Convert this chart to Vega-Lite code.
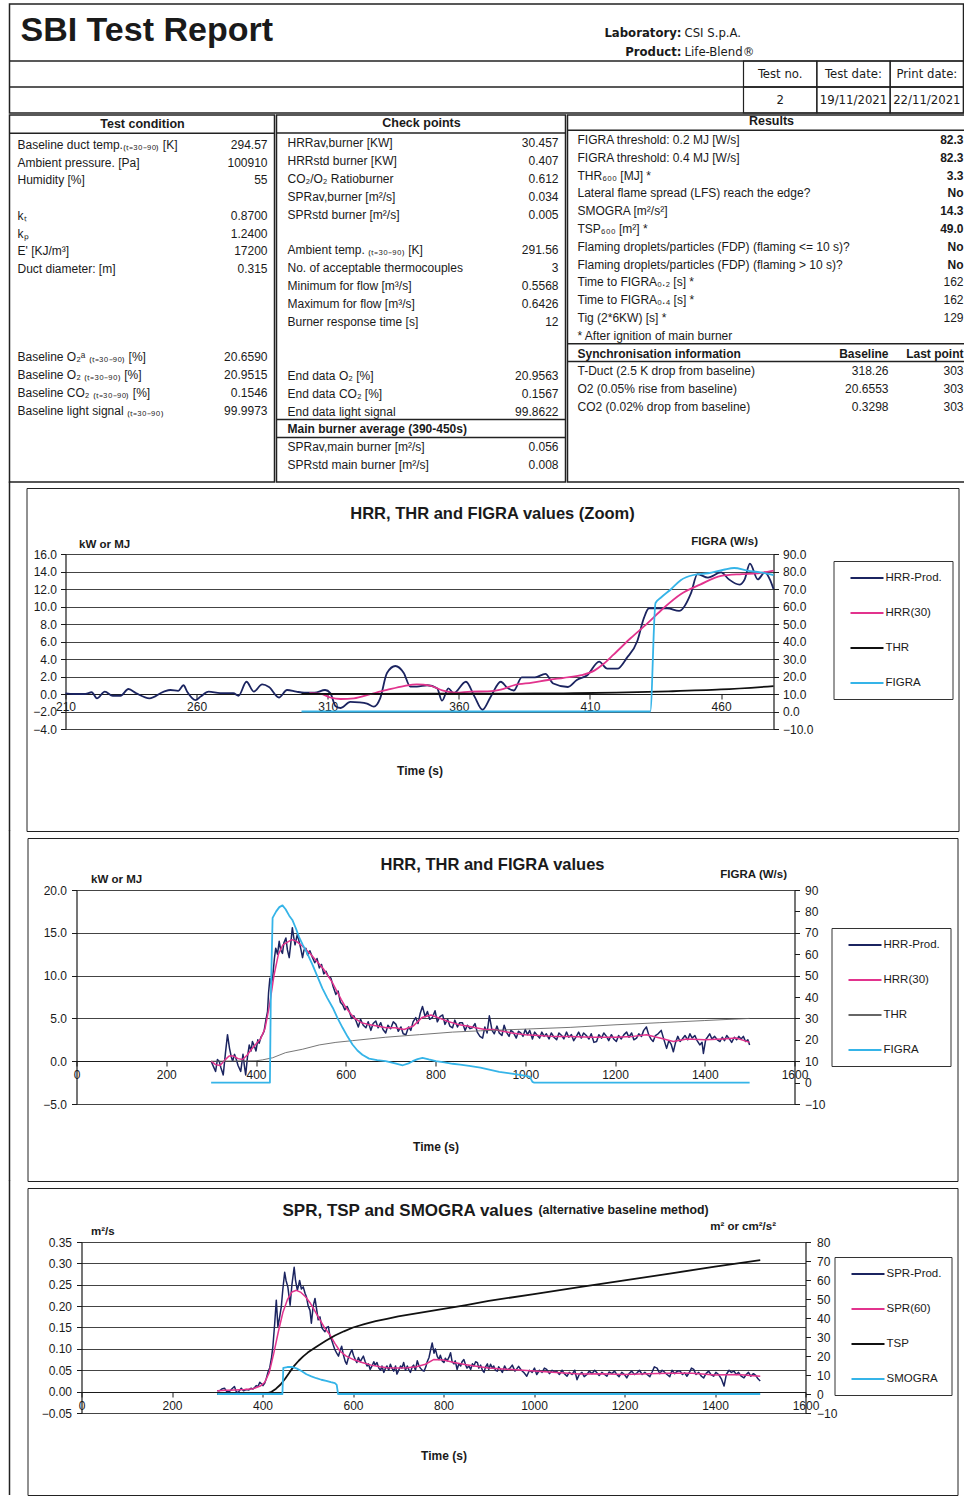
{
"$schema": "https://vega.github.io/schema/vega-lite/v6.json",
"padding": {"left": 7.5, "top": 3, "right": 0, "bottom": 0},
"background": "white",
"spacing": -3,
"resolve": {"scale": {"color": "independent"}, "legend": {"color": "independent"}},
"config": {
 "font": "Liberation Sans",
 "view": {"stroke": "#222222", "strokeWidth": 1},
 "text": {"font": "Liberation Sans", "fontSize": 12, "color": "#1a1a1a"},
 "rule": {"color": "#222222"},
 "axis": {"labelFont": "Liberation Sans", "titleFont": "Liberation Sans", "labelFontSize": 12, "labelColor": "#1a1a1a", "titleColor": "#1a1a1a", "titleFontWeight": "bold", "titleFontSize": 12, "domainColor": "#1a1a1a", "domainWidth": 1.2, "tickColor": "#1a1a1a", "gridColor": "#444444", "gridWidth": 1, "labelFlush": false, "labelOverlap": false},
 "legend": {"labelFont": "Liberation Sans", "labelFontSize": 11.5, "labelColor": "#1a1a1a", "symbolType": "M0,0L6,0", "symbolSize": 121, "symbolStrokeWidth": 2.2, "labelOffset": 28, "rowPadding": 22, "padding": 10, "strokeColor": "#333333", "fillColor": "white", "labelLimit": 200},
 "title": {"font": "Liberation Sans", "fontWeight": "bold", "color": "#1a1a1a", "fontSize": 16.5}
},
"datasets": {
 "lab": [{"line": 1, "k": "Laboratory:", "v": "CSI S.p.A."}, {"line": 2, "k": "Product:", "v": "Life-Blend®"}],
 "tests": [
  {"col": "Test no.", "row": "head", "text": "Test no."}, {"col": "Test date:", "row": "head", "text": "Test date:"}, {"col": "Print date:", "row": "head", "text": "Print date:"},
  {"col": "Test no.", "row": "val", "text": "2"}, {"col": "Test date:", "row": "val", "text": "19/11/2021"}, {"col": "Print date:", "row": "val", "text": "22/11/2021"}
 ],
 "frame": [{"p": 0}],
 "tc": [
  {"row": 1, "label": "Baseline duct temp.₍ₜ₌₃₀₋₉₀₎ [K]", "value": "294.57"},
  {"row": 2, "label": "Ambient pressure. [Pa]", "value": "100910"},
  {"row": 3, "label": "Humidity [%]", "value": "55"},
  {"row": 5, "label": "kₜ", "value": "0.8700"},
  {"row": 6, "label": "kₚ", "value": "1.2400"},
  {"row": 7, "label": "E' [KJ/m³]", "value": "17200"},
  {"row": 8, "label": "Duct diameter: [m]", "value": "0.315"},
  {"row": 13, "label": "Baseline O₂ᵃ ₍ₜ₌₃₀₋₉₀₎ [%]", "value": "20.6590"},
  {"row": 14, "label": "Baseline O₂ ₍ₜ₌₃₀₋₉₀₎ [%]", "value": "20.9515"},
  {"row": 15, "label": "Baseline CO₂ ₍ₜ₌₃₀₋₉₀₎ [%]", "value": "0.1546"},
  {"row": 16, "label": "Baseline light signal ₍ₜ₌₃₀₋₉₀₎", "value": "99.9973"}
 ],
 "cp": [
  {"row": 1, "label": "HRRav,burner [KW]", "value": "30.457"},
  {"row": 2, "label": "HRRstd burner [KW]", "value": "0.407"},
  {"row": 3, "label": "CO₂/O₂ Ratioburner", "value": "0.612"},
  {"row": 4, "label": "SPRav,burner [m²/s]", "value": "0.034"},
  {"row": 5, "label": "SPRstd burner [m²/s]", "value": "0.005"},
  {"row": 7, "label": "Ambient temp. ₍ₜ₌₃₀₋₉₀₎ [K]", "value": "291.56"},
  {"row": 8, "label": "No. of acceptable thermocouples", "value": "3"},
  {"row": 9, "label": "Minimum for flow [m³/s]", "value": "0.5568"},
  {"row": 10, "label": "Maximum for flow [m³/s]", "value": "0.6426"},
  {"row": 11, "label": "Burner response time [s]", "value": "12"},
  {"row": 14, "label": "End data O₂ [%]", "value": "20.9563"},
  {"row": 15, "label": "End data CO₂ [%]", "value": "0.1567"},
  {"row": 16, "label": "End data light signal", "value": "99.8622"},
  {"row": 17, "label": "Main burner average (390-450s)", "value": ""},
  {"row": 18, "label": "SPRav,main burner [m²/s]", "value": "0.056"},
  {"row": 19, "label": "SPRstd main burner [m²/s]", "value": "0.008"}
 ],
 "res": [
  {"row": 1, "label": "FIGRA threshold: 0.2 MJ [W/s]", "value": "82.3"},
  {"row": 2, "label": "FIGRA threshold: 0.4 MJ [W/s]", "value": "82.3"},
  {"row": 3, "label": "THR₆₀₀ [MJ] *", "value": "3.3"},
  {"row": 4, "label": "Lateral flame spread (LFS) reach the edge?", "value": "No"},
  {"row": 5, "label": "SMOGRA [m²/s²]", "value": "14.3"},
  {"row": 6, "label": "TSP₆₀₀ [m²] *", "value": "49.0"},
  {"row": 7, "label": "Flaming droplets/particles (FDP) (flaming <= 10 s)?", "value": "No"},
  {"row": 8, "label": "Flaming droplets/particles (FDP) (flaming > 10 s)?", "value": "No"},
  {"row": 9, "label": "Time to FIGRA₀.₂ [s] *", "value": "162"},
  {"row": 10, "label": "Time to FIGRA₀.₄ [s] *", "value": "162"},
  {"row": 11, "label": "Tig (2*6KW) [s] *", "value": "129"},
  {"row": 12, "label": "* After ignition of main burner", "value": ""},
  {"row": 13, "label": "Synchronisation information", "base": "Baseline", "value": "Last point"},
  {"row": 14, "label": "T-Duct (2.5 K drop from baseline)", "base": "318.26", "value": "303"},
  {"row": 15, "label": "O2 (0.05% rise from baseline)", "base": "20.6553", "value": "303"},
  {"row": 16, "label": "CO2 (0.02% drop from baseline)", "base": "0.3298", "value": "303"}
 ],
 "c1": [
  {"s":"HRR-Prod.","t":210,"v":0.08},{"s":"HRR-Prod.","t":213,"v":0},{"s":"HRR-Prod.","t":217.6,"v":0},{"s":"HRR-Prod.","t":220,"v":0.2},{"s":"HRR-Prod.","t":222,"v":-0.5},{"s":"HRR-Prod.","t":225,"v":0.27},{"s":"HRR-Prod.","t":228,"v":-0.2},{"s":"HRR-Prod.","t":231,"v":-0.2},{"s":"HRR-Prod.","t":234,"v":0.57},{"s":"HRR-Prod.","t":237,"v":0.08},{"s":"HRR-Prod.","t":242,"v":-0.5},{"s":"HRR-Prod.","t":247.5,"v":0.27},{"s":"HRR-Prod.","t":250,"v":0.46},{"s":"HRR-Prod.","t":253,"v":0.35},{"s":"HRR-Prod.","t":255,"v":1.0},{"s":"HRR-Prod.","t":256.4,"v":0.27},{"s":"HRR-Prod.","t":259.6,"v":-0.7},{"s":"HRR-Prod.","t":261.5,"v":-0.3},{"s":"HRR-Prod.","t":264.6,"v":0.27},{"s":"HRR-Prod.","t":269,"v":0.1},{"s":"HRR-Prod.","t":274,"v":0.1},{"s":"HRR-Prod.","t":276,"v":-0.2},{"s":"HRR-Prod.","t":279,"v":1.4},{"s":"HRR-Prod.","t":281.8,"v":0.27},{"s":"HRR-Prod.","t":285,"v":1.1},{"s":"HRR-Prod.","t":287.6,"v":0.8},{"s":"HRR-Prod.","t":291.4,"v":-0.4},{"s":"HRR-Prod.","t":294.5,"v":0.46},{"s":"HRR-Prod.","t":298,"v":0.27},{"s":"HRR-Prod.","t":301,"v":0.15},{"s":"HRR-Prod.","t":305,"v":0.15},{"s":"HRR-Prod.","t":309,"v":0.46},{"s":"HRR-Prod.","t":311,"v":0.1},{"s":"HRR-Prod.","t":313,"v":-1.4},{"s":"HRR-Prod.","t":315,"v":-1.6},{"s":"HRR-Prod.","t":318.6,"v":-0.9},{"s":"HRR-Prod.","t":322,"v":-0.95},{"s":"HRR-Prod.","t":325,"v":-1.1},{"s":"HRR-Prod.","t":327.6,"v":-1.45},{"s":"HRR-Prod.","t":330,"v":-0.5},{"s":"HRR-Prod.","t":332.6,"v":2.4},{"s":"HRR-Prod.","t":335.8,"v":3.2},{"s":"HRR-Prod.","t":339,"v":2.4},{"s":"HRR-Prod.","t":341.5,"v":0.84},{"s":"HRR-Prod.","t":344,"v":0.84},{"s":"HRR-Prod.","t":348,"v":1.0},{"s":"HRR-Prod.","t":351.7,"v":0.65},{"s":"HRR-Prod.","t":353.6,"v":-0.76},{"s":"HRR-Prod.","t":356,"v":0.65},{"s":"HRR-Prod.","t":358,"v":0.08},{"s":"HRR-Prod.","t":362.7,"v":1.4},{"s":"HRR-Prod.","t":366,"v":-0.3},{"s":"HRR-Prod.","t":369,"v":-1.8},{"s":"HRR-Prod.","t":372,"v":-0.4},{"s":"HRR-Prod.","t":376,"v":1.4},{"s":"HRR-Prod.","t":378.5,"v":0.7},{"s":"HRR-Prod.","t":381,"v":0.4},{"s":"HRR-Prod.","t":384,"v":1.9},{"s":"HRR-Prod.","t":389,"v":1.9},{"s":"HRR-Prod.","t":393,"v":2.3},{"s":"HRR-Prod.","t":396,"v":1.2},{"s":"HRR-Prod.","t":401.6,"v":0.8},{"s":"HRR-Prod.","t":405,"v":1.6},{"s":"HRR-Prod.","t":409,"v":2.15},{"s":"HRR-Prod.","t":413.5,"v":3.7},{"s":"HRR-Prod.","t":416.6,"v":2.9},{"s":"HRR-Prod.","t":420.5,"v":2.9},{"s":"HRR-Prod.","t":424,"v":4.1},{"s":"HRR-Prod.","t":428,"v":6.0},{"s":"HRR-Prod.","t":430.6,"v":8.7},{"s":"HRR-Prod.","t":432.5,"v":9.8},{"s":"HRR-Prod.","t":435.7,"v":9.8},{"s":"HRR-Prod.","t":439.5,"v":9.8},{"s":"HRR-Prod.","t":444,"v":9.5},{"s":"HRR-Prod.","t":448.5,"v":11.5},{"s":"HRR-Prod.","t":451,"v":13.7},{"s":"HRR-Prod.","t":455,"v":13.3},{"s":"HRR-Prod.","t":460,"v":13.9},{"s":"HRR-Prod.","t":463,"v":13.1},{"s":"HRR-Prod.","t":467,"v":12.5},{"s":"HRR-Prod.","t":469,"v":13.1},{"s":"HRR-Prod.","t":471,"v":14.9},{"s":"HRR-Prod.","t":474,"v":13.1},{"s":"HRR-Prod.","t":476.7,"v":13.9},{"s":"HRR-Prod.","t":478.6,"v":13.1},{"s":"HRR-Prod.","t":480,"v":12.0},
  {"s":"HRR(30)","t":303,"v":0.1},{"s":"HRR(30)","t":307,"v":0.05},{"s":"HRR(30)","t":311,"v":-0.4},{"s":"HRR(30)","t":315,"v":-0.57},{"s":"HRR(30)","t":320,"v":-0.5},{"s":"HRR(30)","t":326.5,"v":0},{"s":"HRR(30)","t":332.6,"v":0.46},{"s":"HRR(30)","t":339,"v":0.9},{"s":"HRR(30)","t":344,"v":1.1},{"s":"HRR(30)","t":349,"v":0.95},{"s":"HRR(30)","t":354,"v":0.38},{"s":"HRR(30)","t":359,"v":0.15},{"s":"HRR(30)","t":364.5,"v":0.27},{"s":"HRR(30)","t":371,"v":0.3},{"s":"HRR(30)","t":376,"v":0.5},{"s":"HRR(30)","t":381,"v":1.0},{"s":"HRR(30)","t":388,"v":1.3},{"s":"HRR(30)","t":394,"v":1.6},{"s":"HRR(30)","t":400,"v":1.85},{"s":"HRR(30)","t":406.7,"v":2.15},{"s":"HRR(30)","t":411.8,"v":2.7},{"s":"HRR(30)","t":415,"v":3.4},{"s":"HRR(30)","t":419,"v":4.5},{"s":"HRR(30)","t":425.6,"v":6.4},{"s":"HRR(30)","t":432,"v":8.1},{"s":"HRR(30)","t":438,"v":9.8},{"s":"HRR(30)","t":444.6,"v":11.4},{"s":"HRR(30)","t":452,"v":12.5},{"s":"HRR(30)","t":460,"v":13.5},{"s":"HRR(30)","t":468,"v":13.7},{"s":"HRR(30)","t":474,"v":13.8},{"s":"HRR(30)","t":480,"v":14.1},
  {"s":"THR","t":300,"v":0},{"s":"THR","t":350,"v":0.03},{"s":"THR","t":400,"v":0.08},{"s":"THR","t":420,"v":0.15},{"s":"THR","t":440,"v":0.3},{"s":"THR","t":460,"v":0.52},{"s":"THR","t":480,"v":0.9},
  {"s":"FIGRA","t":300,"v":0},{"s":"FIGRA","t":433,"v":0},{"s":"FIGRA","t":435,"v":62},{"s":"FIGRA","t":437,"v":65},{"s":"FIGRA","t":441,"v":70},{"s":"FIGRA","t":444.6,"v":75},{"s":"FIGRA","t":449.5,"v":78},{"s":"FIGRA","t":455,"v":79},{"s":"FIGRA","t":461,"v":81},{"s":"FIGRA","t":465,"v":82},{"s":"FIGRA","t":470,"v":80.5},{"s":"FIGRA","t":475,"v":79.5},{"s":"FIGRA","t":480,"v":78}
 ],
 "c2": [
  {"s":"HRR-Prod.","t":300,"v":0.0},{"s":"HRR-Prod.","t":305,"v":-0.6},{"s":"HRR-Prod.","t":310,"v":-1.2},{"s":"HRR-Prod.","t":314,"v":0.2},{"s":"HRR-Prod.","t":318,"v":0},{"s":"HRR-Prod.","t":322,"v":-0.8},{"s":"HRR-Prod.","t":327,"v":-1.6},{"s":"HRR-Prod.","t":332,"v":1.0},{"s":"HRR-Prod.","t":336.5,"v":3.1},{"s":"HRR-Prod.","t":341,"v":1.5},{"s":"HRR-Prod.","t":345,"v":0.5},{"s":"HRR-Prod.","t":348,"v":0},{"s":"HRR-Prod.","t":352,"v":0.8},{"s":"HRR-Prod.","t":355,"v":0.4},{"s":"HRR-Prod.","t":360,"v":-0.5},{"s":"HRR-Prod.","t":366,"v":-1.2},{"s":"HRR-Prod.","t":371,"v":0.8},{"s":"HRR-Prod.","t":374,"v":-0.5},{"s":"HRR-Prod.","t":377,"v":-1.6},{"s":"HRR-Prod.","t":381,"v":0.5},{"s":"HRR-Prod.","t":385,"v":1.9},{"s":"HRR-Prod.","t":389,"v":1.2},{"s":"HRR-Prod.","t":392,"v":2.3},{"s":"HRR-Prod.","t":396,"v":1.8},{"s":"HRR-Prod.","t":400,"v":1.2},{"s":"HRR-Prod.","t":404,"v":2.5},{"s":"HRR-Prod.","t":407,"v":2.1},{"s":"HRR-Prod.","t":411,"v":2.8},{"s":"HRR-Prod.","t":414.5,"v":3.1},{"s":"HRR-Prod.","t":418,"v":3.5},{"s":"HRR-Prod.","t":422,"v":4.8},{"s":"HRR-Prod.","t":425.7,"v":5.8},{"s":"HRR-Prod.","t":428,"v":8.0},{"s":"HRR-Prod.","t":431,"v":9.7},{"s":"HRR-Prod.","t":434,"v":9.0},{"s":"HRR-Prod.","t":437,"v":9.7},{"s":"HRR-Prod.","t":441,"v":12.0},{"s":"HRR-Prod.","t":444,"v":13.2},{"s":"HRR-Prod.","t":448,"v":12.5},{"s":"HRR-Prod.","t":451.7,"v":14.0},{"s":"HRR-Prod.","t":455,"v":13.0},{"s":"HRR-Prod.","t":459,"v":12.6},{"s":"HRR-Prod.","t":462,"v":13.8},{"s":"HRR-Prod.","t":466.6,"v":14.4},{"s":"HRR-Prod.","t":470,"v":13.0},{"s":"HRR-Prod.","t":474,"v":12.1},{"s":"HRR-Prod.","t":477,"v":13.5},{"s":"HRR-Prod.","t":481,"v":15.6},{"s":"HRR-Prod.","t":484,"v":14.5},{"s":"HRR-Prod.","t":487,"v":13.6},{"s":"HRR-Prod.","t":492,"v":14.8},{"s":"HRR-Prod.","t":496,"v":14.0},{"s":"HRR-Prod.","t":500,"v":13.1},{"s":"HRR-Prod.","t":503.7,"v":12.1},{"s":"HRR-Prod.","t":507,"v":13.0},{"s":"HRR-Prod.","t":511,"v":13.2},{"s":"HRR-Prod.","t":515,"v":12.4},{"s":"HRR-Prod.","t":520,"v":12.9},{"s":"HRR-Prod.","t":526,"v":12.1},{"s":"HRR-Prod.","t":531,"v":11.5},{"s":"HRR-Prod.","t":536,"v":12.0},{"s":"HRR-Prod.","t":541,"v":10.9},{"s":"HRR-Prod.","t":546,"v":11.3},{"s":"HRR-Prod.","t":551,"v":10.2},{"s":"HRR-Prod.","t":556,"v":10.5},{"s":"HRR-Prod.","t":561,"v":9.9},{"s":"HRR-Prod.","t":567,"v":9.7},{"s":"HRR-Prod.","t":572,"v":8.7},{"s":"HRR-Prod.","t":578,"v":7.8},{"s":"HRR-Prod.","t":583,"v":8.2},{"s":"HRR-Prod.","t":588,"v":6.9},{"s":"HRR-Prod.","t":593,"v":6.6},{"s":"HRR-Prod.","t":598,"v":6.0},{"s":"HRR-Prod.","t":603,"v":6.4},{"s":"HRR-Prod.","t":608,"v":5.8},{"s":"HRR-Prod.","t":613,"v":5.0},{"s":"HRR-Prod.","t":618,"v":5.3},{"s":"HRR-Prod.","t":623,"v":4.7},{"s":"HRR-Prod.","t":628,"v":4.0},{"s":"HRR-Prod.","t":633,"v":4.9},{"s":"HRR-Prod.","t":639,"v":4.2},{"s":"HRR-Prod.","t":645,"v":3.9},{"s":"HRR-Prod.","t":650,"v":4.6},{"s":"HRR-Prod.","t":656,"v":3.6},{"s":"HRR-Prod.","t":661,"v":4.4},{"s":"HRR-Prod.","t":667,"v":4.7},{"s":"HRR-Prod.","t":672,"v":3.9},{"s":"HRR-Prod.","t":678,"v":4.5},{"s":"HRR-Prod.","t":683,"v":3.7},{"s":"HRR-Prod.","t":689,"v":3.3},{"s":"HRR-Prod.","t":694,"v":4.2},{"s":"HRR-Prod.","t":700,"v":3.8},{"s":"HRR-Prod.","t":706,"v":4.6},{"s":"HRR-Prod.","t":712,"v":4.3},{"s":"HRR-Prod.","t":717,"v":3.5},{"s":"HRR-Prod.","t":723,"v":4.0},{"s":"HRR-Prod.","t":728,"v":3.2},{"s":"HRR-Prod.","t":734,"v":3.1},{"s":"HRR-Prod.","t":740,"v":4.0},{"s":"HRR-Prod.","t":745,"v":3.6},{"s":"HRR-Prod.","t":750,"v":4.6},{"s":"HRR-Prod.","t":756,"v":5.1},{"s":"HRR-Prod.","t":761,"v":4.4},{"s":"HRR-Prod.","t":766,"v":5.6},{"s":"HRR-Prod.","t":771,"v":6.4},{"s":"HRR-Prod.","t":777,"v":5.2},{"s":"HRR-Prod.","t":782,"v":5.8},{"s":"HRR-Prod.","t":787,"v":4.9},{"s":"HRR-Prod.","t":793,"v":5.1},{"s":"HRR-Prod.","t":799,"v":5.9},{"s":"HRR-Prod.","t":804,"v":4.6},{"s":"HRR-Prod.","t":810,"v":5.2},{"s":"HRR-Prod.","t":816,"v":5.4},{"s":"HRR-Prod.","t":821,"v":4.3},{"s":"HRR-Prod.","t":827,"v":4.9},{"s":"HRR-Prod.","t":832,"v":4.1},{"s":"HRR-Prod.","t":838,"v":3.9},{"s":"HRR-Prod.","t":843,"v":4.8},{"s":"HRR-Prod.","t":849,"v":4.0},{"s":"HRR-Prod.","t":854,"v":4.5},{"s":"HRR-Prod.","t":860,"v":4.5},{"s":"HRR-Prod.","t":866,"v":3.6},{"s":"HRR-Prod.","t":871,"v":4.2},{"s":"HRR-Prod.","t":877,"v":3.8},{"s":"HRR-Prod.","t":882,"v":3.9},{"s":"HRR-Prod.","t":888,"v":4.4},{"s":"HRR-Prod.","t":893,"v":3.4},{"s":"HRR-Prod.","t":899,"v":2.9},{"s":"HRR-Prod.","t":905,"v":2.7},{"s":"HRR-Prod.","t":910,"v":4.0},{"s":"HRR-Prod.","t":915,"v":3.3},{"s":"HRR-Prod.","t":920,"v":5.3},{"s":"HRR-Prod.","t":926,"v":3.6},{"s":"HRR-Prod.","t":931,"v":3.2},{"s":"HRR-Prod.","t":937,"v":4.1},{"s":"HRR-Prod.","t":942,"v":3.3},{"s":"HRR-Prod.","t":948,"v":3.0},{"s":"HRR-Prod.","t":953,"v":4.2},{"s":"HRR-Prod.","t":958,"v":3.4},{"s":"HRR-Prod.","t":964,"v":2.9},{"s":"HRR-Prod.","t":968,"v":3.6},{"s":"HRR-Prod.","t":973,"v":3.4},{"s":"HRR-Prod.","t":980,"v":2.7},{"s":"HRR-Prod.","t":985,"v":3.5},{"s":"HRR-Prod.","t":990,"v":3.3},{"s":"HRR-Prod.","t":995,"v":2.9},{"s":"HRR-Prod.","t":1000,"v":3.7},{"s":"HRR-Prod.","t":1005,"v":3.1},{"s":"HRR-Prod.","t":1010,"v":3.6},{"s":"HRR-Prod.","t":1016,"v":2.6},{"s":"HRR-Prod.","t":1021,"v":3.4},{"s":"HRR-Prod.","t":1027,"v":3.0},{"s":"HRR-Prod.","t":1032,"v":2.7},{"s":"HRR-Prod.","t":1037,"v":3.4},{"s":"HRR-Prod.","t":1042,"v":2.9},{"s":"HRR-Prod.","t":1047,"v":3.2},{"s":"HRR-Prod.","t":1053,"v":2.6},{"s":"HRR-Prod.","t":1058,"v":3.3},{"s":"HRR-Prod.","t":1064,"v":2.8},{"s":"HRR-Prod.","t":1070,"v":2.5},{"s":"HRR-Prod.","t":1075,"v":3.3},{"s":"HRR-Prod.","t":1081,"v":3.0},{"s":"HRR-Prod.","t":1086,"v":2.6},{"s":"HRR-Prod.","t":1092,"v":3.4},{"s":"HRR-Prod.","t":1097,"v":2.8},{"s":"HRR-Prod.","t":1103,"v":3.1},{"s":"HRR-Prod.","t":1108,"v":2.4},{"s":"HRR-Prod.","t":1114,"v":2.9},{"s":"HRR-Prod.","t":1119,"v":3.4},{"s":"HRR-Prod.","t":1125,"v":2.7},{"s":"HRR-Prod.","t":1130,"v":3.3},{"s":"HRR-Prod.","t":1136,"v":3.0},{"s":"HRR-Prod.","t":1142,"v":2.6},{"s":"HRR-Prod.","t":1147,"v":3.2},{"s":"HRR-Prod.","t":1153,"v":2.2},{"s":"HRR-Prod.","t":1159,"v":2.3},{"s":"HRR-Prod.","t":1164,"v":3.1},{"s":"HRR-Prod.","t":1170,"v":2.7},{"s":"HRR-Prod.","t":1175,"v":3.3},{"s":"HRR-Prod.","t":1181,"v":2.9},{"s":"HRR-Prod.","t":1186,"v":2.4},{"s":"HRR-Prod.","t":1192,"v":3.1},{"s":"HRR-Prod.","t":1197,"v":2.6},{"s":"HRR-Prod.","t":1203,"v":2.3},{"s":"HRR-Prod.","t":1208,"v":3.0},{"s":"HRR-Prod.","t":1214,"v":2.6},{"s":"HRR-Prod.","t":1220,"v":3.1},{"s":"HRR-Prod.","t":1226,"v":3.4},{"s":"HRR-Prod.","t":1231,"v":2.8},{"s":"HRR-Prod.","t":1237,"v":3.3},{"s":"HRR-Prod.","t":1242,"v":2.5},{"s":"HRR-Prod.","t":1248,"v":2.7},{"s":"HRR-Prod.","t":1253,"v":3.2},{"s":"HRR-Prod.","t":1259,"v":2.9},{"s":"HRR-Prod.","t":1264,"v":3.6},{"s":"HRR-Prod.","t":1270,"v":4.0},{"s":"HRR-Prod.","t":1275,"v":3.1},{"s":"HRR-Prod.","t":1280,"v":2.6},{"s":"HRR-Prod.","t":1285,"v":2.3},{"s":"HRR-Prod.","t":1290,"v":3.0},{"s":"HRR-Prod.","t":1296,"v":3.2},{"s":"HRR-Prod.","t":1303,"v":3.6},{"s":"HRR-Prod.","t":1308,"v":2.7},{"s":"HRR-Prod.","t":1315,"v":1.5},{"s":"HRR-Prod.","t":1320,"v":2.4},{"s":"HRR-Prod.","t":1325,"v":2.0},{"s":"HRR-Prod.","t":1330,"v":1.1},{"s":"HRR-Prod.","t":1335,"v":2.2},{"s":"HRR-Prod.","t":1340,"v":2.9},{"s":"HRR-Prod.","t":1345,"v":2.3},{"s":"HRR-Prod.","t":1350,"v":2.6},{"s":"HRR-Prod.","t":1356,"v":3.0},{"s":"HRR-Prod.","t":1362,"v":2.5},{"s":"HRR-Prod.","t":1367,"v":3.2},{"s":"HRR-Prod.","t":1372,"v":2.7},{"s":"HRR-Prod.","t":1378,"v":3.0},{"s":"HRR-Prod.","t":1383,"v":2.4},{"s":"HRR-Prod.","t":1389,"v":1.9},{"s":"HRR-Prod.","t":1394,"v":2.2},{"s":"HRR-Prod.","t":1397,"v":0.9},{"s":"HRR-Prod.","t":1402,"v":2.5},{"s":"HRR-Prod.","t":1406,"v":2.8},{"s":"HRR-Prod.","t":1411,"v":3.2},{"s":"HRR-Prod.","t":1416,"v":2.6},{"s":"HRR-Prod.","t":1422,"v":2.9},{"s":"HRR-Prod.","t":1428,"v":2.5},{"s":"HRR-Prod.","t":1434,"v":2.3},{"s":"HRR-Prod.","t":1439,"v":2.8},{"s":"HRR-Prod.","t":1444,"v":2.4},{"s":"HRR-Prod.","t":1449,"v":3.0},{"s":"HRR-Prod.","t":1455,"v":2.6},{"s":"HRR-Prod.","t":1460,"v":2.2},{"s":"HRR-Prod.","t":1466,"v":2.8},{"s":"HRR-Prod.","t":1471,"v":2.5},{"s":"HRR-Prod.","t":1476,"v":2.9},{"s":"HRR-Prod.","t":1481,"v":2.6},{"s":"HRR-Prod.","t":1486,"v":2.9},{"s":"HRR-Prod.","t":1491,"v":2.3},{"s":"HRR-Prod.","t":1496,"v":2.5},{"s":"HRR-Prod.","t":1500,"v":1.9},
  {"s":"HRR(30)","t":300,"v":0.0},{"s":"HRR(30)","t":310,"v":-0.4},{"s":"HRR(30)","t":320,"v":-0.5},{"s":"HRR(30)","t":330,"v":0.1},{"s":"HRR(30)","t":340,"v":0.6},{"s":"HRR(30)","t":350,"v":0.6},{"s":"HRR(30)","t":360,"v":0.3},{"s":"HRR(30)","t":370,"v":0.2},{"s":"HRR(30)","t":380,"v":0.7},{"s":"HRR(30)","t":390,"v":1.4},{"s":"HRR(30)","t":400,"v":2.0},{"s":"HRR(30)","t":410,"v":2.6},{"s":"HRR(30)","t":420,"v":3.8},{"s":"HRR(30)","t":430,"v":6.5},{"s":"HRR(30)","t":440,"v":10.0},{"s":"HRR(30)","t":450,"v":12.5},{"s":"HRR(30)","t":460,"v":13.6},{"s":"HRR(30)","t":470,"v":13.9},{"s":"HRR(30)","t":480,"v":14.2},{"s":"HRR(30)","t":490,"v":14.0},{"s":"HRR(30)","t":500,"v":13.6},{"s":"HRR(30)","t":510,"v":13.1},{"s":"HRR(30)","t":520,"v":12.6},{"s":"HRR(30)","t":530,"v":12.0},{"s":"HRR(30)","t":540,"v":11.4},{"s":"HRR(30)","t":550,"v":10.8},{"s":"HRR(30)","t":560,"v":10.0},{"s":"HRR(30)","t":570,"v":9.2},{"s":"HRR(30)","t":580,"v":8.2},{"s":"HRR(30)","t":590,"v":7.2},{"s":"HRR(30)","t":600,"v":6.3},{"s":"HRR(30)","t":610,"v":5.6},{"s":"HRR(30)","t":620,"v":5.0},{"s":"HRR(30)","t":635,"v":4.5},{"s":"HRR(30)","t":650,"v":4.3},{"s":"HRR(30)","t":670,"v":4.1},{"s":"HRR(30)","t":690,"v":3.9},{"s":"HRR(30)","t":710,"v":3.9},{"s":"HRR(30)","t":730,"v":3.7},{"s":"HRR(30)","t":750,"v":4.1},{"s":"HRR(30)","t":770,"v":5.1},{"s":"HRR(30)","t":790,"v":5.4},{"s":"HRR(30)","t":810,"v":5.0},{"s":"HRR(30)","t":830,"v":4.6},{"s":"HRR(30)","t":850,"v":4.3},{"s":"HRR(30)","t":870,"v":4.1},{"s":"HRR(30)","t":890,"v":3.9},{"s":"HRR(30)","t":910,"v":3.7},{"s":"HRR(30)","t":930,"v":3.7},{"s":"HRR(30)","t":950,"v":3.5},{"s":"HRR(30)","t":970,"v":3.3},{"s":"HRR(30)","t":1000,"v":3.1},{"s":"HRR(30)","t":1030,"v":3.0},{"s":"HRR(30)","t":1060,"v":2.9},{"s":"HRR(30)","t":1100,"v":2.9},{"s":"HRR(30)","t":1150,"v":2.8},{"s":"HRR(30)","t":1200,"v":2.8},{"s":"HRR(30)","t":1240,"v":2.9},{"s":"HRR(30)","t":1270,"v":3.1},{"s":"HRR(30)","t":1300,"v":2.7},{"s":"HRR(30)","t":1330,"v":2.3},{"s":"HRR(30)","t":1360,"v":2.6},{"s":"HRR(30)","t":1400,"v":2.5},{"s":"HRR(30)","t":1440,"v":2.6},{"s":"HRR(30)","t":1470,"v":2.7},{"s":"HRR(30)","t":1500,"v":2.2},
  {"s":"THR","t":300,"v":0},{"s":"THR","t":400,"v":0.05},{"s":"THR","t":414,"v":0.15},{"s":"THR","t":437,"v":0.4},{"s":"THR","t":466,"v":1.0},{"s":"THR","t":504,"v":1.4},{"s":"THR","t":541,"v":1.9},{"s":"THR","t":578,"v":2.2},{"s":"THR","t":615,"v":2.4},{"s":"THR","t":652,"v":2.6},{"s":"THR","t":689,"v":2.8},{"s":"THR","t":764,"v":3.1},{"s":"THR","t":838,"v":3.4},{"s":"THR","t":900,"v":3.55},{"s":"THR","t":1000,"v":3.75},{"s":"THR","t":1100,"v":3.95},{"s":"THR","t":1200,"v":4.25},{"s":"THR","t":1300,"v":4.5},{"s":"THR","t":1400,"v":4.75},{"s":"THR","t":1500,"v":5.0},
  {"s":"FIGRA","t":300,"v":0},{"s":"FIGRA","t":431,"v":0},{"s":"FIGRA","t":433,"v":40},{"s":"FIGRA","t":437,"v":77},{"s":"FIGRA","t":445,"v":80},{"s":"FIGRA","t":452,"v":82},{"s":"FIGRA","t":459,"v":82.8},{"s":"FIGRA","t":466,"v":81},{"s":"FIGRA","t":474,"v":78},{"s":"FIGRA","t":481,"v":76},{"s":"FIGRA","t":489,"v":72},{"s":"FIGRA","t":496,"v":68},{"s":"FIGRA","t":504,"v":64.5},{"s":"FIGRA","t":515,"v":60},{"s":"FIGRA","t":526,"v":55},{"s":"FIGRA","t":537,"v":49.5},{"s":"FIGRA","t":548,"v":44},{"s":"FIGRA","t":559,"v":39.5},{"s":"FIGRA","t":571,"v":35},{"s":"FIGRA","t":582,"v":30},{"s":"FIGRA","t":593,"v":25.6},{"s":"FIGRA","t":604,"v":21.5},{"s":"FIGRA","t":615,"v":17.8},{"s":"FIGRA","t":626,"v":15},{"s":"FIGRA","t":637,"v":13},{"s":"FIGRA","t":652,"v":11.2},{"s":"FIGRA","t":670,"v":10.5},{"s":"FIGRA","t":689,"v":10},{"s":"FIGRA","t":710,"v":9},{"s":"FIGRA","t":727,"v":8.1},{"s":"FIGRA","t":740,"v":9},{"s":"FIGRA","t":749,"v":10},{"s":"FIGRA","t":760,"v":11},{"s":"FIGRA","t":771,"v":11.6},{"s":"FIGRA","t":785,"v":10.8},{"s":"FIGRA","t":801,"v":10},{"s":"FIGRA","t":820,"v":9.4},{"s":"FIGRA","t":838,"v":8.8},{"s":"FIGRA","t":855,"v":8.4},{"s":"FIGRA","t":875,"v":7.8},{"s":"FIGRA","t":900,"v":7.0},{"s":"FIGRA","t":942,"v":5.0},{"s":"FIGRA","t":970,"v":4.2},{"s":"FIGRA","t":995,"v":3.4},{"s":"FIGRA","t":1010,"v":2.8},{"s":"FIGRA","t":1016,"v":0.3},{"s":"FIGRA","t":1020,"v":0},{"s":"FIGRA","t":1500,"v":0}
 ],
 "c3": [
  {"s":"SPR-Prod.","t":300,"v":0.002},{"s":"SPR-Prod.","t":305,"v":0.002},{"s":"SPR-Prod.","t":310,"v":0.006},{"s":"SPR-Prod.","t":316,"v":0.008},{"s":"SPR-Prod.","t":321,"v":0.0},{"s":"SPR-Prod.","t":327,"v":0.0},{"s":"SPR-Prod.","t":332,"v":0.006},{"s":"SPR-Prod.","t":338,"v":0.012},{"s":"SPR-Prod.","t":342,"v":0.0},{"s":"SPR-Prod.","t":346,"v":-0.003},{"s":"SPR-Prod.","t":350,"v":0.004},{"s":"SPR-Prod.","t":353,"v":0.008},{"s":"SPR-Prod.","t":358,"v":0.002},{"s":"SPR-Prod.","t":364,"v":0.005},{"s":"SPR-Prod.","t":370,"v":0.004},{"s":"SPR-Prod.","t":375,"v":0.008},{"s":"SPR-Prod.","t":379,"v":0.006},{"s":"SPR-Prod.","t":383,"v":0.01},{"s":"SPR-Prod.","t":386,"v":0.014},{"s":"SPR-Prod.","t":390,"v":0.012},{"s":"SPR-Prod.","t":394,"v":0.022},{"s":"SPR-Prod.","t":398,"v":0.018},{"s":"SPR-Prod.","t":401,"v":0.014},{"s":"SPR-Prod.","t":405,"v":0.02},{"s":"SPR-Prod.","t":408.5,"v":0.031},{"s":"SPR-Prod.","t":412,"v":0.045},{"s":"SPR-Prod.","t":416,"v":0.056},{"s":"SPR-Prod.","t":420,"v":0.08},{"s":"SPR-Prod.","t":423,"v":0.106},{"s":"SPR-Prod.","t":427,"v":0.16},{"s":"SPR-Prod.","t":430.5,"v":0.214},{"s":"SPR-Prod.","t":434,"v":0.152},{"s":"SPR-Prod.","t":438,"v":0.175},{"s":"SPR-Prod.","t":441.5,"v":0.198},{"s":"SPR-Prod.","t":445,"v":0.24},{"s":"SPR-Prod.","t":449,"v":0.279},{"s":"SPR-Prod.","t":452,"v":0.26},{"s":"SPR-Prod.","t":456,"v":0.245},{"s":"SPR-Prod.","t":459,"v":0.22},{"s":"SPR-Prod.","t":461,"v":0.202},{"s":"SPR-Prod.","t":465,"v":0.25},{"s":"SPR-Prod.","t":470,"v":0.291},{"s":"SPR-Prod.","t":473,"v":0.26},{"s":"SPR-Prod.","t":477,"v":0.237},{"s":"SPR-Prod.","t":480,"v":0.25},{"s":"SPR-Prod.","t":482,"v":0.26},{"s":"SPR-Prod.","t":486,"v":0.24},{"s":"SPR-Prod.","t":490,"v":0.245},{"s":"SPR-Prod.","t":494,"v":0.23},{"s":"SPR-Prod.","t":497,"v":0.222},{"s":"SPR-Prod.","t":501,"v":0.2},{"s":"SPR-Prod.","t":505,"v":0.19},{"s":"SPR-Prod.","t":508,"v":0.16},{"s":"SPR-Prod.","t":512,"v":0.2},{"s":"SPR-Prod.","t":516,"v":0.218},{"s":"SPR-Prod.","t":520,"v":0.19},{"s":"SPR-Prod.","t":523,"v":0.168},{"s":"SPR-Prod.","t":527,"v":0.175},{"s":"SPR-Prod.","t":531,"v":0.15},{"s":"SPR-Prod.","t":534,"v":0.145},{"s":"SPR-Prod.","t":538,"v":0.14},{"s":"SPR-Prod.","t":542,"v":0.15},{"s":"SPR-Prod.","t":545.6,"v":0.152},{"s":"SPR-Prod.","t":549,"v":0.13},{"s":"SPR-Prod.","t":553,"v":0.12},{"s":"SPR-Prod.","t":556,"v":0.11},{"s":"SPR-Prod.","t":560,"v":0.098},{"s":"SPR-Prod.","t":564,"v":0.09},{"s":"SPR-Prod.","t":568,"v":0.083},{"s":"SPR-Prod.","t":571,"v":0.095},{"s":"SPR-Prod.","t":575,"v":0.106},{"s":"SPR-Prod.","t":579,"v":0.085},{"s":"SPR-Prod.","t":583,"v":0.07},{"s":"SPR-Prod.","t":586,"v":0.064},{"s":"SPR-Prod.","t":590,"v":0.08},{"s":"SPR-Prod.","t":594,"v":0.09},{"s":"SPR-Prod.","t":597.6,"v":0.098},{"s":"SPR-Prod.","t":601,"v":0.085},{"s":"SPR-Prod.","t":605,"v":0.075},{"s":"SPR-Prod.","t":608.6,"v":0.068},{"s":"SPR-Prod.","t":612,"v":0.08},{"s":"SPR-Prod.","t":616,"v":0.07},{"s":"SPR-Prod.","t":620,"v":0.078},{"s":"SPR-Prod.","t":623,"v":0.083},{"s":"SPR-Prod.","t":627,"v":0.07},{"s":"SPR-Prod.","t":631,"v":0.06},{"s":"SPR-Prod.","t":634,"v":0.065},{"s":"SPR-Prod.","t":638,"v":0.052},{"s":"SPR-Prod.","t":642,"v":0.06},{"s":"SPR-Prod.","t":646,"v":0.07},{"s":"SPR-Prod.","t":649,"v":0.062},{"s":"SPR-Prod.","t":653,"v":0.068},{"s":"SPR-Prod.","t":657,"v":0.055},{"s":"SPR-Prod.","t":661,"v":0.05},{"s":"SPR-Prod.","t":664,"v":0.06},{"s":"SPR-Prod.","t":668,"v":0.045},{"s":"SPR-Prod.","t":672,"v":0.055},{"s":"SPR-Prod.","t":675,"v":0.06},{"s":"SPR-Prod.","t":679,"v":0.05},{"s":"SPR-Prod.","t":682.6,"v":0.064},{"s":"SPR-Prod.","t":686,"v":0.055},{"s":"SPR-Prod.","t":690,"v":0.048},{"s":"SPR-Prod.","t":694,"v":0.06},{"s":"SPR-Prod.","t":697,"v":0.041},{"s":"SPR-Prod.","t":701,"v":0.05},{"s":"SPR-Prod.","t":705,"v":0.06},{"s":"SPR-Prod.","t":708,"v":0.055},{"s":"SPR-Prod.","t":712,"v":0.068},{"s":"SPR-Prod.","t":716,"v":0.05},{"s":"SPR-Prod.","t":720,"v":0.06},{"s":"SPR-Prod.","t":723,"v":0.052},{"s":"SPR-Prod.","t":727,"v":0.045},{"s":"SPR-Prod.","t":731,"v":0.058},{"s":"SPR-Prod.","t":734,"v":0.062},{"s":"SPR-Prod.","t":738,"v":0.05},{"s":"SPR-Prod.","t":742,"v":0.072},{"s":"SPR-Prod.","t":746,"v":0.06},{"s":"SPR-Prod.","t":749,"v":0.055},{"s":"SPR-Prod.","t":753,"v":0.05},{"s":"SPR-Prod.","t":757,"v":0.048},{"s":"SPR-Prod.","t":761,"v":0.058},{"s":"SPR-Prod.","t":764,"v":0.07},{"s":"SPR-Prod.","t":768,"v":0.08},{"s":"SPR-Prod.","t":771,"v":0.095},{"s":"SPR-Prod.","t":775,"v":0.114},{"s":"SPR-Prod.","t":779,"v":0.09},{"s":"SPR-Prod.","t":782,"v":0.1},{"s":"SPR-Prod.","t":786,"v":0.083},{"s":"SPR-Prod.","t":790,"v":0.075},{"s":"SPR-Prod.","t":793,"v":0.085},{"s":"SPR-Prod.","t":797,"v":0.072},{"s":"SPR-Prod.","t":801,"v":0.068},{"s":"SPR-Prod.","t":804,"v":0.078},{"s":"SPR-Prod.","t":808,"v":0.072},{"s":"SPR-Prod.","t":812,"v":0.08},{"s":"SPR-Prod.","t":815.6,"v":0.091},{"s":"SPR-Prod.","t":819,"v":0.07},{"s":"SPR-Prod.","t":823,"v":0.065},{"s":"SPR-Prod.","t":826,"v":0.072},{"s":"SPR-Prod.","t":830,"v":0.052},{"s":"SPR-Prod.","t":834,"v":0.065},{"s":"SPR-Prod.","t":838,"v":0.06},{"s":"SPR-Prod.","t":841,"v":0.07},{"s":"SPR-Prod.","t":845,"v":0.075},{"s":"SPR-Prod.","t":849,"v":0.062},{"s":"SPR-Prod.","t":852,"v":0.055},{"s":"SPR-Prod.","t":856,"v":0.06},{"s":"SPR-Prod.","t":860,"v":0.052},{"s":"SPR-Prod.","t":864,"v":0.065},{"s":"SPR-Prod.","t":867,"v":0.06},{"s":"SPR-Prod.","t":871,"v":0.07},{"s":"SPR-Prod.","t":875,"v":0.068},{"s":"SPR-Prod.","t":878,"v":0.055},{"s":"SPR-Prod.","t":882,"v":0.062},{"s":"SPR-Prod.","t":886,"v":0.05},{"s":"SPR-Prod.","t":889.6,"v":0.045},{"s":"SPR-Prod.","t":893,"v":0.058},{"s":"SPR-Prod.","t":897,"v":0.065},{"s":"SPR-Prod.","t":900,"v":0.052},{"s":"SPR-Prod.","t":904,"v":0.064},{"s":"SPR-Prod.","t":908,"v":0.055},{"s":"SPR-Prod.","t":911,"v":0.06},{"s":"SPR-Prod.","t":915,"v":0.05},{"s":"SPR-Prod.","t":919,"v":0.048},{"s":"SPR-Prod.","t":922,"v":0.058},{"s":"SPR-Prod.","t":926,"v":0.052},{"s":"SPR-Prod.","t":930,"v":0.045},{"s":"SPR-Prod.","t":935,"v":0.06},{"s":"SPR-Prod.","t":940,"v":0.05},{"s":"SPR-Prod.","t":947,"v":0.055},{"s":"SPR-Prod.","t":952,"v":0.062},{"s":"SPR-Prod.","t":958,"v":0.048},{"s":"SPR-Prod.","t":966,"v":0.059},{"s":"SPR-Prod.","t":972,"v":0.05},{"s":"SPR-Prod.","t":978,"v":0.044},{"s":"SPR-Prod.","t":984,"v":0.036},{"s":"SPR-Prod.","t":990,"v":0.05},{"s":"SPR-Prod.","t":996,"v":0.045},{"s":"SPR-Prod.","t":1001,"v":0.055},{"s":"SPR-Prod.","t":1006,"v":0.04},{"s":"SPR-Prod.","t":1012,"v":0.05},{"s":"SPR-Prod.","t":1018,"v":0.045},{"s":"SPR-Prod.","t":1023,"v":0.055},{"s":"SPR-Prod.","t":1028,"v":0.052},{"s":"SPR-Prod.","t":1034,"v":0.042},{"s":"SPR-Prod.","t":1040,"v":0.05},{"s":"SPR-Prod.","t":1045,"v":0.046},{"s":"SPR-Prod.","t":1050,"v":0.048},{"s":"SPR-Prod.","t":1056,"v":0.04},{"s":"SPR-Prod.","t":1062,"v":0.05},{"s":"SPR-Prod.","t":1067,"v":0.042},{"s":"SPR-Prod.","t":1073,"v":0.036},{"s":"SPR-Prod.","t":1078,"v":0.045},{"s":"SPR-Prod.","t":1084,"v":0.04},{"s":"SPR-Prod.","t":1090,"v":0.05},{"s":"SPR-Prod.","t":1095,"v":0.028},{"s":"SPR-Prod.","t":1100,"v":0.04},{"s":"SPR-Prod.","t":1106,"v":0.045},{"s":"SPR-Prod.","t":1111,"v":0.035},{"s":"SPR-Prod.","t":1117,"v":0.04},{"s":"SPR-Prod.","t":1122,"v":0.048},{"s":"SPR-Prod.","t":1128,"v":0.042},{"s":"SPR-Prod.","t":1134,"v":0.05},{"s":"SPR-Prod.","t":1139,"v":0.044},{"s":"SPR-Prod.","t":1144,"v":0.038},{"s":"SPR-Prod.","t":1150,"v":0.045},{"s":"SPR-Prod.","t":1156,"v":0.04},{"s":"SPR-Prod.","t":1161,"v":0.036},{"s":"SPR-Prod.","t":1166,"v":0.046},{"s":"SPR-Prod.","t":1172,"v":0.042},{"s":"SPR-Prod.","t":1178,"v":0.048},{"s":"SPR-Prod.","t":1183,"v":0.04},{"s":"SPR-Prod.","t":1188,"v":0.035},{"s":"SPR-Prod.","t":1194,"v":0.045},{"s":"SPR-Prod.","t":1200,"v":0.04},{"s":"SPR-Prod.","t":1205,"v":0.032},{"s":"SPR-Prod.","t":1210,"v":0.042},{"s":"SPR-Prod.","t":1216,"v":0.048},{"s":"SPR-Prod.","t":1222,"v":0.04},{"s":"SPR-Prod.","t":1228,"v":0.044},{"s":"SPR-Prod.","t":1233,"v":0.05},{"s":"SPR-Prod.","t":1239,"v":0.04},{"s":"SPR-Prod.","t":1245,"v":0.045},{"s":"SPR-Prod.","t":1250,"v":0.04},{"s":"SPR-Prod.","t":1256,"v":0.035},{"s":"SPR-Prod.","t":1261,"v":0.046},{"s":"SPR-Prod.","t":1266,"v":0.058},{"s":"SPR-Prod.","t":1272,"v":0.055},{"s":"SPR-Prod.","t":1278,"v":0.042},{"s":"SPR-Prod.","t":1283,"v":0.05},{"s":"SPR-Prod.","t":1288,"v":0.046},{"s":"SPR-Prod.","t":1294,"v":0.04},{"s":"SPR-Prod.","t":1300,"v":0.035},{"s":"SPR-Prod.","t":1305,"v":0.05},{"s":"SPR-Prod.","t":1311,"v":0.042},{"s":"SPR-Prod.","t":1317,"v":0.048},{"s":"SPR-Prod.","t":1323,"v":0.048},{"s":"SPR-Prod.","t":1328,"v":0.04},{"s":"SPR-Prod.","t":1333,"v":0.044},{"s":"SPR-Prod.","t":1338,"v":0.036},{"s":"SPR-Prod.","t":1344,"v":0.046},{"s":"SPR-Prod.","t":1348,"v":0.055},{"s":"SPR-Prod.","t":1353,"v":0.052},{"s":"SPR-Prod.","t":1358,"v":0.04},{"s":"SPR-Prod.","t":1364,"v":0.045},{"s":"SPR-Prod.","t":1370,"v":0.036},{"s":"SPR-Prod.","t":1375,"v":0.032},{"s":"SPR-Prod.","t":1380,"v":0.042},{"s":"SPR-Prod.","t":1386,"v":0.048},{"s":"SPR-Prod.","t":1391,"v":0.04},{"s":"SPR-Prod.","t":1397,"v":0.036},{"s":"SPR-Prod.","t":1402,"v":0.045},{"s":"SPR-Prod.","t":1408,"v":0.04},{"s":"SPR-Prod.","t":1414,"v":0.03},{"s":"SPR-Prod.","t":1420,"v":0.013},{"s":"SPR-Prod.","t":1425,"v":0.04},{"s":"SPR-Prod.","t":1431,"v":0.05},{"s":"SPR-Prod.","t":1436,"v":0.045},{"s":"SPR-Prod.","t":1442,"v":0.048},{"s":"SPR-Prod.","t":1447,"v":0.04},{"s":"SPR-Prod.","t":1452,"v":0.045},{"s":"SPR-Prod.","t":1458,"v":0.036},{"s":"SPR-Prod.","t":1464,"v":0.032},{"s":"SPR-Prod.","t":1469,"v":0.04},{"s":"SPR-Prod.","t":1474,"v":0.045},{"s":"SPR-Prod.","t":1479,"v":0.036},{"s":"SPR-Prod.","t":1485,"v":0.042},{"s":"SPR-Prod.","t":1490,"v":0.038},{"s":"SPR-Prod.","t":1495,"v":0.03},{"s":"SPR-Prod.","t":1500,"v":0.025},
  {"s":"SPR(60)","t":300,"v":0.002},{"s":"SPR(60)","t":320,"v":0.003},{"s":"SPR(60)","t":340,"v":0.004},{"s":"SPR(60)","t":360,"v":0.005},{"s":"SPR(60)","t":380,"v":0.007},{"s":"SPR(60)","t":395,"v":0.013},{"s":"SPR(60)","t":405,"v":0.022},{"s":"SPR(60)","t":415,"v":0.045},{"s":"SPR(60)","t":425,"v":0.09},{"s":"SPR(60)","t":435,"v":0.14},{"s":"SPR(60)","t":445,"v":0.185},{"s":"SPR(60)","t":455,"v":0.215},{"s":"SPR(60)","t":465,"v":0.233},{"s":"SPR(60)","t":475,"v":0.237},{"s":"SPR(60)","t":485,"v":0.232},{"s":"SPR(60)","t":495,"v":0.222},{"s":"SPR(60)","t":505,"v":0.208},{"s":"SPR(60)","t":515,"v":0.19},{"s":"SPR(60)","t":527,"v":0.168},{"s":"SPR(60)","t":538,"v":0.148},{"s":"SPR(60)","t":549,"v":0.133},{"s":"SPR(60)","t":560,"v":0.113},{"s":"SPR(60)","t":571,"v":0.095},{"s":"SPR(60)","t":585,"v":0.083},{"s":"SPR(60)","t":601,"v":0.075},{"s":"SPR(60)","t":620,"v":0.068},{"s":"SPR(60)","t":640,"v":0.062},{"s":"SPR(60)","t":660,"v":0.058},{"s":"SPR(60)","t":675,"v":0.056},{"s":"SPR(60)","t":700,"v":0.055},{"s":"SPR(60)","t":720,"v":0.056},{"s":"SPR(60)","t":740,"v":0.058},{"s":"SPR(60)","t":760,"v":0.064},{"s":"SPR(60)","t":778,"v":0.075},{"s":"SPR(60)","t":800,"v":0.074},{"s":"SPR(60)","t":823,"v":0.068},{"s":"SPR(60)","t":850,"v":0.063},{"s":"SPR(60)","t":880,"v":0.058},{"s":"SPR(60)","t":900,"v":0.055},{"s":"SPR(60)","t":930,"v":0.053},{"s":"SPR(60)","t":960,"v":0.051},{"s":"SPR(60)","t":1000,"v":0.048},{"s":"SPR(60)","t":1050,"v":0.045},{"s":"SPR(60)","t":1100,"v":0.041},{"s":"SPR(60)","t":1150,"v":0.042},{"s":"SPR(60)","t":1200,"v":0.04},{"s":"SPR(60)","t":1250,"v":0.042},{"s":"SPR(60)","t":1300,"v":0.043},{"s":"SPR(60)","t":1350,"v":0.043},{"s":"SPR(60)","t":1400,"v":0.039},{"s":"SPR(60)","t":1450,"v":0.04},{"s":"SPR(60)","t":1500,"v":0.036},
  {"s":"TSP","t":300,"v":0},{"s":"TSP","t":400,"v":0},{"s":"TSP","t":410,"v":0.3},{"s":"TSP","t":420,"v":1.2},{"s":"TSP","t":430,"v":2.8},{"s":"TSP","t":440,"v":5.0},{"s":"TSP","t":450,"v":8.0},{"s":"TSP","t":460,"v":11.5},{"s":"TSP","t":470,"v":14.8},{"s":"TSP","t":480,"v":17.5},{"s":"TSP","t":490,"v":19.8},{"s":"TSP","t":500,"v":21.8},{"s":"TSP","t":520,"v":25.0},{"s":"TSP","t":540,"v":28.0},{"s":"TSP","t":560,"v":30.8},{"s":"TSP","t":580,"v":33.0},{"s":"TSP","t":600,"v":35.0},{"s":"TSP","t":625,"v":36.8},{"s":"TSP","t":650,"v":38.3},{"s":"TSP","t":675,"v":39.6},{"s":"TSP","t":700,"v":40.8},{"s":"TSP","t":750,"v":42.8},{"s":"TSP","t":800,"v":44.8},{"s":"TSP","t":850,"v":46.8},{"s":"TSP","t":900,"v":49.0},{"s":"TSP","t":1000,"v":52.6},{"s":"TSP","t":1100,"v":56.2},{"s":"TSP","t":1200,"v":59.8},{"s":"TSP","t":1300,"v":63.4},{"s":"TSP","t":1400,"v":67.0},{"s":"TSP","t":1500,"v":70.5},
  {"s":"SMOGRA","t":300,"v":0},{"s":"SMOGRA","t":444,"v":0},{"s":"SMOGRA","t":446,"v":13.8},{"s":"SMOGRA","t":455,"v":14.2},{"s":"SMOGRA","t":465,"v":14.3},{"s":"SMOGRA","t":475,"v":13.5},{"s":"SMOGRA","t":487,"v":12.0},{"s":"SMOGRA","t":497,"v":10.4},{"s":"SMOGRA","t":508,"v":9.3},{"s":"SMOGRA","t":519,"v":8.3},{"s":"SMOGRA","t":530,"v":7.5},{"s":"SMOGRA","t":541,"v":6.9},{"s":"SMOGRA","t":551,"v":6.2},{"s":"SMOGRA","t":560,"v":5.7},{"s":"SMOGRA","t":564,"v":4.8},{"s":"SMOGRA","t":567,"v":0},{"s":"SMOGRA","t":1500,"v":0}
 ]
},
"vconcat": [
 {"spacing": -3, "vconcat": [
  {"width": 954, "height": 109, "view": {"stroke": "#222222", "strokeWidth": 1.5},
   "layer": [
    {"data": {"values": [{"t": "SBI Test Report"}]}, "mark": {"type": "text", "x": 11, "y": 27, "align": "left", "baseline": "middle", "fontSize": 34, "fontWeight": "bold"}, "encoding": {"text": {"field": "t"}}},
    {"data": {"name": "lab"}, "mark": {"type": "text", "x": 672, "align": "right", "baseline": "middle", "fontSize": 13, "fontWeight": "bold", "font": "Liberation Sans Narrow, Arial Narrow, DejaVu Sans Condensed, sans-serif"}, "encoding": {"y": {"field": "line", "type": "quantitative", "scale": {"domain": [1, 2], "range": [29, 48]}, "axis": null}, "text": {"field": "k"}}},
    {"data": {"name": "lab"}, "mark": {"type": "text", "x": 675, "align": "left", "baseline": "middle", "fontSize": 13, "font": "Liberation Sans Narrow, Arial Narrow, DejaVu Sans Condensed, sans-serif"}, "encoding": {"y": {"field": "line", "type": "quantitative", "scale": {"domain": [1, 2], "range": [29, 48]}, "axis": null}, "text": {"field": "v"}}},
    {"data": {"name": "tests"}, "mark": {"type": "rect", "filled": false, "color": "#222222", "strokeWidth": 1.2}, "encoding": {"x": {"field": "col", "type": "nominal", "sort": null, "scale": {"domain": ["Test no.", "Test date:", "Print date:"], "range": [734, 954], "paddingInner": 0, "paddingOuter": 0}, "axis": null}, "y": {"field": "row", "type": "nominal", "sort": null, "scale": {"domain": ["head", "val"], "range": [57, 109], "paddingInner": 0, "paddingOuter": 0}, "axis": null}}},
    {"data": {"name": "tests"}, "mark": {"type": "text", "baseline": "middle", "fontSize": 13, "font": "Liberation Sans Narrow, Arial Narrow, DejaVu Sans Condensed, sans-serif"}, "encoding": {"x": {"field": "col", "type": "nominal", "sort": null, "scale": {"domain": ["Test no.", "Test date:", "Print date:"], "range": [734, 954], "paddingInner": 0, "paddingOuter": 0}, "axis": null}, "y": {"field": "row", "type": "nominal", "sort": null, "scale": {"domain": ["head", "val"], "range": [57, 109], "paddingInner": 0, "paddingOuter": 0}, "axis": null}, "text": {"field": "text"}}},
    {"data": {"values": [{"row": "head"}, {"row": "val"}]}, "mark": {"type": "rule", "strokeWidth": 1.5}, "encoding": {"y": {"field": "row", "type": "nominal", "bandPosition": 0, "scale": {"domain": ["head", "val"], "range": [57, 109], "paddingInner": 0, "paddingOuter": 0}, "axis": null}}}
   ],
   "resolve": {"scale": {"x": "independent", "y": "independent"}}
  },
  {"spacing": -3, "hconcat": [
   {"width": 265, "height": 367, "view": {"stroke": "#222222", "strokeWidth": 1.5},
    "layer": [
     {"data": {"values": [{"row": 0, "h": "Test condition"}]}, "mark": {"type": "text", "x": 133, "align": "center", "baseline": "middle", "fontWeight": "bold", "fontSize": 12.5, "dy": -3}, "encoding": {"y": {"field": "row", "type": "quantitative", "scale": {"domain": [1, 16], "range": [30, 295.5]}, "axis": null}, "text": {"field": "h"}}},
     {"data": {"values": [{"row": 0}]}, "mark": {"type": "rule", "yOffset": 6, "strokeWidth": 1.5}, "encoding": {"y": {"field": "row", "type": "quantitative", "scale": {"domain": [1, 16], "range": [30, 295.5]}, "axis": null}}},
     {"data": {"name": "tc"}, "mark": {"type": "text", "x": 8, "align": "left", "baseline": "middle"}, "encoding": {"y": {"field": "row", "type": "quantitative", "scale": {"domain": [1, 16], "range": [30, 295.5]}, "axis": null}, "text": {"field": "label"}}},
     {"data": {"name": "tc"}, "mark": {"type": "text", "x": 258, "align": "right", "baseline": "middle"}, "encoding": {"y": {"field": "row", "type": "quantitative", "scale": {"domain": [1, 16], "range": [30, 295.5]}, "axis": null}, "text": {"field": "value"}}}
    ]
   },
   {"width": 289, "height": 367, "view": {"stroke": "#222222", "strokeWidth": 1.5},
    "layer": [
     {"data": {"values": [{"row": 0, "h": "Check points"}]}, "mark": {"type": "text", "x": 145, "align": "center", "baseline": "middle", "fontWeight": "bold", "fontSize": 12.5, "dy": -2}, "encoding": {"y": {"field": "row", "type": "quantitative", "scale": {"domain": [1, 19], "range": [28, 350.2]}, "axis": null}, "text": {"field": "h"}}},
     {"data": {"values": [{"row": 0}, {"row": 16}, {"row": 17}]}, "mark": {"type": "rule", "yOffset": 8, "strokeWidth": 1.5}, "encoding": {"y": {"field": "row", "type": "quantitative", "scale": {"domain": [1, 19], "range": [28, 350.2]}, "axis": null}}},
     {"data": {"name": "cp"}, "transform": [{"filter": "datum.row !== 17"}], "mark": {"type": "text", "x": 11, "align": "left", "baseline": "middle"}, "encoding": {"y": {"field": "row", "type": "quantitative", "scale": {"domain": [1, 19], "range": [28, 350.2]}, "axis": null}, "text": {"field": "label"}}},
     {"data": {"name": "cp"}, "transform": [{"filter": "datum.row === 17"}], "mark": {"type": "text", "x": 11, "align": "left", "baseline": "middle", "fontWeight": "bold"}, "encoding": {"y": {"field": "row", "type": "quantitative", "scale": {"domain": [1, 19], "range": [28, 350.2]}, "axis": null}, "text": {"field": "label"}}},
     {"data": {"name": "cp"}, "mark": {"type": "text", "x": 282, "align": "right", "baseline": "middle"}, "encoding": {"y": {"field": "row", "type": "quantitative", "scale": {"domain": [1, 19], "range": [28, 350.2]}, "axis": null}, "text": {"field": "value"}}}
    ]
   },
   {"width": 400, "height": 367, "view": {"stroke": "#222222", "strokeWidth": 1.5},
    "layer": [
     {"data": {"values": [{"row": 0, "h": "Results"}]}, "mark": {"type": "text", "x": 204, "align": "center", "baseline": "middle", "fontWeight": "bold", "fontSize": 12.5, "dy": -1}, "encoding": {"y": {"field": "row", "type": "quantitative", "scale": {"domain": [1, 16], "range": [25, 292]}, "axis": null}, "text": {"field": "h"}}},
     {"data": {"values": [{"row": 0}, {"row": 12}, {"row": 13}]}, "mark": {"type": "rule", "yOffset": 8, "strokeWidth": 1.5}, "encoding": {"y": {"field": "row", "type": "quantitative", "scale": {"domain": [1, 16], "range": [25, 292]}, "axis": null}}},
     {"data": {"name": "res"}, "transform": [{"filter": "datum.row !== 13"}], "mark": {"type": "text", "x": 10, "align": "left", "baseline": "middle"}, "encoding": {"y": {"field": "row", "type": "quantitative", "scale": {"domain": [1, 16], "range": [25, 292]}, "axis": null}, "text": {"field": "label"}}},
     {"data": {"name": "res"}, "transform": [{"filter": "datum.row === 13"}], "mark": {"type": "text", "x": 10, "align": "left", "baseline": "middle", "fontWeight": "bold"}, "encoding": {"y": {"field": "row", "type": "quantitative", "scale": {"domain": [1, 16], "range": [25, 292]}, "axis": null}, "text": {"field": "label"}}},
     {"data": {"name": "res"}, "transform": [{"filter": "datum.row <= 8 || datum.row === 13"}], "mark": {"type": "text", "x": 396, "align": "right", "baseline": "middle", "fontWeight": "bold"}, "encoding": {"y": {"field": "row", "type": "quantitative", "scale": {"domain": [1, 16], "range": [25, 292]}, "axis": null}, "text": {"field": "value"}}},
     {"data": {"name": "res"}, "transform": [{"filter": "datum.row >= 9 && datum.row !== 13"}], "mark": {"type": "text", "x": 396, "align": "right", "baseline": "middle"}, "encoding": {"y": {"field": "row", "type": "quantitative", "scale": {"domain": [1, 16], "range": [25, 292]}, "axis": null}, "text": {"field": "value"}}},
     {"data": {"name": "res"}, "transform": [{"filter": "datum.row === 13"}], "mark": {"type": "text", "x": 321, "align": "right", "baseline": "middle", "fontWeight": "bold"}, "encoding": {"y": {"field": "row", "type": "quantitative", "scale": {"domain": [1, 16], "range": [25, 292]}, "axis": null}, "text": {"field": "base"}}},
     {"data": {"name": "res"}, "transform": [{"filter": "datum.row >= 14"}], "mark": {"type": "text", "x": 321, "align": "right", "baseline": "middle"}, "encoding": {"y": {"field": "row", "type": "quantitative", "scale": {"domain": [1, 16], "range": [25, 292]}, "axis": null}, "text": {"field": "base"}}}
    ]
   }
  ]}
 ]},
 {"spacing": 0, "resolve": {"scale": {"color": "independent"}, "legend": {"color": "independent"}}, "hconcat": [
  {"width": 16, "height": 343, "view": {"stroke": null}, "data": {"name": "frame"}, "mark": {"type": "rule", "strokeWidth": 1.5, "color": "#222222", "y": 0, "yOffset": -6.5, "y2": "height", "y2Offset": 3.5}, "encoding": {"x": {"field": "p", "type": "quantitative", "scale": {"domain": [0, 1], "range": [0, 16]}, "axis": null}}},
  {"width": 932, "height": 343,
   "title": {"text": "HRR, THR and FIGRA values (Zoom)", "anchor": "middle", "frame": "group", "offset": -34},
   "layer": [
    {"data": {"name": "c1"}, "transform": [{"filter": "datum.s !== 'FIGRA'"}],
     "mark": {"type": "line", "interpolate": "monotone", "strokeWidth": 1.8, "strokeJoin": "round"},
     "encoding": {
      "x": {"field": "t", "type": "quantitative", "scale": {"domain": [210, 480], "range": [39, 747], "nice": false, "zero": false},
            "axis": {"orient": "bottom", "offset": -137, "values": [210, 260, 310, 360, 410, 460], "format": "d", "tickSize": 5, "labelPadding": 2, "grid": false, "title": "Time (s)", "titleY": 76, "titleBaseline": "middle"}},
      "y": {"field": "v", "type": "quantitative", "scale": {"domain": [-4, 16], "range": [241, 66], "nice": false, "zero": false},
            "axis": {"orient": "left", "offset": -39, "values": [-4, -2, 0, 2, 4, 6, 8, 10, 12, 14, 16], "format": ".1f", "grid": true, "tickSize": 5, "labelPadding": 4, "title": "kW or MJ", "titleAngle": 0, "titleAlign": "left", "titleBaseline": "middle", "titleX": 13, "titleY": 56, "titleFontSize": 11.5}},
      "color": {"field": "s", "type": "nominal", "scale": {"domain": ["HRR-Prod.", "HRR(30)", "THR", "FIGRA"], "range": ["#1b2460", "#e2338d", "#111111", "#35b4e8"]}, "legend": {"title": null, "orient": "none", "legendX": 807, "legendY": 73}}
     }},
    {"data": {"name": "c1"}, "transform": [{"filter": "datum.s === 'FIGRA'"}],
     "mark": {"type": "line", "interpolate": "monotone", "strokeWidth": 1.8, "strokeJoin": "round"},
     "encoding": {
      "x": {"field": "t", "type": "quantitative", "scale": {"domain": [210, 480], "range": [39, 747], "nice": false, "zero": false},
            "axis": {"orient": "bottom", "offset": -137, "values": [210, 260, 310, 360, 410, 460], "format": "d", "tickSize": 5, "labelPadding": 2, "grid": false, "title": "Time (s)", "titleY": 76, "titleBaseline": "middle"}},
      "y": {"field": "v", "type": "quantitative", "scale": {"domain": [-10, 90], "range": [241, 66], "nice": false, "zero": false},
            "axis": {"orient": "right", "offset": -185, "values": [-10, 0, 10, 20, 30, 40, 50, 60, 70, 80, 90], "format": ".1f", "grid": false, "tickSize": 5, "labelPadding": 4, "title": "FIGRA (W/s)", "titleAngle": 0, "titleAlign": "right", "titleBaseline": "middle", "titleX": -16, "titleY": 53, "titleFontSize": 11.5}},
      "color": {"field": "s", "type": "nominal", "scale": {"domain": ["HRR-Prod.", "HRR(30)", "THR", "FIGRA"], "range": ["#1b2460", "#e2338d", "#111111", "#35b4e8"]}, "legend": {"title": null, "orient": "none", "legendX": 807, "legendY": 73}}
     }}
   ],
   "resolve": {"scale": {"y": "independent"}}
  }
 ]},
 {"spacing": 0, "resolve": {"scale": {"color": "independent"}, "legend": {"color": "independent"}}, "hconcat": [
  {"width": 17, "height": 343, "view": {"stroke": null}, "data": {"name": "frame"}, "mark": {"type": "rule", "strokeWidth": 1.5, "color": "#222222", "y": 0, "yOffset": -7.5, "y2": "height", "y2Offset": 3.5}, "encoding": {"x": {"field": "p", "type": "quantitative", "scale": {"domain": [0, 1], "range": [0, 17]}, "axis": null}}},
  {"width": 930, "height": 343,
   "title": {"text": "HRR, THR and FIGRA values", "anchor": "middle", "frame": "group", "offset": -35},
   "layer": [
    {"data": {"name": "c2"}, "transform": [{"filter": "datum.s === 'HRR-Prod.' || datum.s === 'HRR(30)'"}],
     "mark": {"type": "line", "strokeWidth": 1.5, "strokeJoin": "round"},
     "encoding": {
      "x": {"field": "t", "type": "quantitative", "scale": {"domain": [0, 1600], "range": [49, 767], "nice": false, "zero": false},
            "axis": {"orient": "bottom", "offset": -120, "values": [0, 200, 400, 600, 800, 1000, 1200, 1400, 1600], "format": "d", "tickSize": 5, "labelPadding": 3, "grid": false, "title": "Time (s)", "titleY": 85, "titleBaseline": "middle"}},
      "y": {"field": "v", "type": "quantitative", "scale": {"domain": [-5, 20], "range": [266, 52], "nice": false, "zero": false},
            "axis": {"orient": "left", "offset": -49, "values": [-5, 0, 5, 10, 15, 20], "format": ".1f", "grid": true, "tickSize": 5, "labelPadding": 5, "title": "kW or MJ", "titleAngle": 0, "titleAlign": "left", "titleBaseline": "middle", "titleX": 14, "titleY": 41, "titleFontSize": 11.5}},
      "color": {"field": "s", "type": "nominal", "scale": {"domain": ["HRR-Prod.", "HRR(30)", "THR", "FIGRA"], "range": ["#1b2460", "#e2338d", "#666666", "#35b4e8"]}, "legend": {"title": null, "orient": "none", "legendX": 804, "legendY": 90}}
     }},
    {"data": {"name": "c2"}, "transform": [{"filter": "datum.s === 'THR'"}],
     "mark": {"type": "line", "strokeWidth": 0.9},
     "encoding": {
      "x": {"field": "t", "type": "quantitative", "scale": {"domain": [0, 1600], "range": [49, 767], "nice": false, "zero": false},
            "axis": {"orient": "bottom", "offset": -120, "values": [0, 200, 400, 600, 800, 1000, 1200, 1400, 1600], "format": "d", "tickSize": 5, "labelPadding": 3, "grid": false, "title": "Time (s)", "titleY": 85, "titleBaseline": "middle"}},
      "y": {"field": "v", "type": "quantitative", "scale": {"domain": [-5, 20], "range": [266, 52], "nice": false, "zero": false}, "axis": null},
      "color": {"field": "s", "type": "nominal", "scale": {"domain": ["HRR-Prod.", "HRR(30)", "THR", "FIGRA"], "range": ["#1b2460", "#e2338d", "#666666", "#35b4e8"]}, "legend": {"title": null, "orient": "none", "legendX": 804, "legendY": 90}}
     }},
    {"data": {"name": "c2"}, "transform": [{"filter": "datum.s === 'FIGRA'"}],
     "mark": {"type": "line", "strokeWidth": 1.8, "strokeJoin": "round"},
     "encoding": {
      "x": {"field": "t", "type": "quantitative", "scale": {"domain": [0, 1600], "range": [49, 767], "nice": false, "zero": false},
            "axis": {"orient": "bottom", "offset": -120, "values": [0, 200, 400, 600, 800, 1000, 1200, 1400, 1600], "format": "d", "tickSize": 5, "labelPadding": 3, "grid": false, "title": "Time (s)", "titleY": 85, "titleBaseline": "middle"}},
      "y": {"field": "v", "type": "quantitative", "scale": {"domain": [-10, 90], "range": [266, 52], "nice": false, "zero": false},
            "axis": {"orient": "right", "offset": -163, "values": [-10, 0, 10, 20, 30, 40, 50, 60, 70, 80, 90], "format": "d", "grid": false, "tickSize": 5, "labelPadding": 5, "title": "FIGRA (W/s)", "titleAngle": 0, "titleAlign": "right", "titleBaseline": "middle", "titleX": -8, "titleY": 36, "titleFontSize": 11.5}},
      "color": {"field": "s", "type": "nominal", "scale": {"domain": ["HRR-Prod.", "HRR(30)", "THR", "FIGRA"], "range": ["#1b2460", "#e2338d", "#666666", "#35b4e8"]}, "legend": {"title": null, "orient": "none", "legendX": 804, "legendY": 90}}
     }}
   ],
   "resolve": {"scale": {"y": "independent"}}
  }
 ]},
 {"spacing": 0, "resolve": {"scale": {"color": "independent"}, "legend": {"color": "independent"}}, "hconcat": [
  {"width": 17, "height": 307, "view": {"stroke": null}, "data": {"name": "frame"}, "mark": {"type": "rule", "strokeWidth": 1.5, "color": "#222222", "y": 0, "yOffset": -7.5, "y2": "height", "y2Offset": 4}, "encoding": {"x": {"field": "p", "type": "quantitative", "scale": {"domain": [0, 1], "range": [0, 17]}, "axis": null}}},
  {"width": 930, "height": 307,
   "title": {"text": "SPR, TSP and SMOGRA values", "anchor": "start", "frame": "group", "dx": 255, "offset": -32, "fontSize": 17},
   "layer": [
    {"data": {"values": [{"note": "(alternative baseline method)"}]}, "mark": {"type": "text", "x": 511, "y": 21.5, "align": "left", "baseline": "middle", "fontSize": 12.3, "fontWeight": "bold"}, "encoding": {"text": {"field": "note"}}},
    {"data": {"name": "c3"}, "transform": [{"filter": "datum.s === 'SPR-Prod.' || datum.s === 'SPR(60)'"}],
     "mark": {"type": "line", "strokeWidth": 1.5, "strokeJoin": "round"},
     "encoding": {
      "x": {"field": "t", "type": "quantitative", "scale": {"domain": [0, 1600], "range": [54, 778], "nice": false, "zero": false},
            "axis": {"orient": "bottom", "offset": -103, "values": [0, 200, 400, 600, 800, 1000, 1200, 1400, 1600], "format": "d", "tickSize": 5, "labelPadding": 3, "grid": false, "title": "Time (s)", "titleY": 63, "titleBaseline": "middle"}},
      "y": {"field": "v", "type": "quantitative", "scale": {"domain": [-0.05, 0.35], "range": [225, 54], "nice": false, "zero": false},
            "axis": {"orient": "left", "offset": -54, "values": [-0.05, 0, 0.05, 0.1, 0.15, 0.2, 0.25, 0.3, 0.35], "format": ".2f", "grid": true, "tickSize": 5, "labelPadding": 5, "title": "m²/s", "titleAngle": 0, "titleAlign": "left", "titleBaseline": "middle", "titleX": 9, "titleY": 43, "titleFontSize": 11.5}},
      "color": {"field": "s", "type": "nominal", "scale": {"domain": ["SPR-Prod.", "SPR(60)", "TSP", "SMOGRA"], "range": ["#1b2460", "#e2338d", "#111111", "#35b4e8"]}, "legend": {"title": null, "orient": "none", "legendX": 807, "legendY": 69}}
     }},
    {"data": {"name": "c3"}, "transform": [{"filter": "datum.s === 'TSP' || datum.s === 'SMOGRA'"}],
     "mark": {"type": "line", "strokeWidth": 1.8, "strokeJoin": "round"},
     "encoding": {
      "x": {"field": "t", "type": "quantitative", "scale": {"domain": [0, 1600], "range": [54, 778], "nice": false, "zero": false},
            "axis": {"orient": "bottom", "offset": -103, "values": [0, 200, 400, 600, 800, 1000, 1200, 1400, 1600], "format": "d", "tickSize": 5, "labelPadding": 3, "grid": false, "title": "Time (s)", "titleY": 63, "titleBaseline": "middle"}},
      "y": {"field": "v", "type": "quantitative", "scale": {"domain": [-10, 80], "range": [225, 54], "nice": false, "zero": false},
            "axis": {"orient": "right", "offset": -152, "values": [-10, 0, 10, 20, 30, 40, 50, 60, 70, 80], "format": "d", "grid": false, "tickSize": 5, "labelPadding": 6, "title": "m² or cm²/s²", "titleAngle": 0, "titleAlign": "right", "titleBaseline": "middle", "titleX": -30, "titleY": 38, "titleFontSize": 11.5}},
      "color": {"field": "s", "type": "nominal", "scale": {"domain": ["SPR-Prod.", "SPR(60)", "TSP", "SMOGRA"], "range": ["#1b2460", "#e2338d", "#111111", "#35b4e8"]}, "legend": {"title": null, "orient": "none", "legendX": 807, "legendY": 69}}
     }}
   ],
   "resolve": {"scale": {"y": "independent"}}
  }
 ]}
]
}
